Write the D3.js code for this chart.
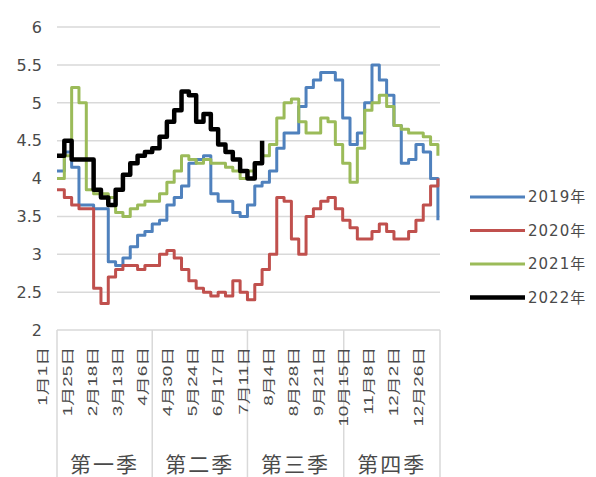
<!DOCTYPE html>
<html><head><meta charset="utf-8">
<script src="https://cdn.jsdelivr.net/npm/d3@7"></script>
<style>html,body{margin:0;padding:0;background:#fff;}svg{display:block;}</style>
</head><body>
<svg id="chart" width="596" height="477"></svg>
<script>
// ---- data (weekly samples, day-of-year index) ----
const weekDays = d3.range(0, 365, 7); // 0..364
const v2019 = [4.1,4.35,4.15,3.65,3.65,3.6,3.6,2.9,2.85,2.95,3.1,3.25,3.3,3.4,3.45,3.65,3.75,3.9,4.2,4.25,4.3,3.8,3.7,3.7,3.55,3.5,3.65,3.9,3.95,4.1,4.4,4.6,4.6,4.95,5.2,5.3,5.4,5.4,5.3,4.8,4.45,4.6,5.0,5.5,5.3,5.1,4.7,4.2,4.25,4.45,4.35,4.0,3.45];
const v2020 = [3.85,3.75,3.65,3.6,3.6,2.55,2.35,2.7,2.8,2.85,2.85,2.8,2.85,2.85,3.0,3.05,2.95,2.8,2.65,2.55,2.5,2.45,2.5,2.45,2.65,2.5,2.4,2.6,2.8,3.0,3.75,3.7,3.2,3.0,3.5,3.6,3.7,3.75,3.6,3.45,3.35,3.2,3.2,3.3,3.4,3.3,3.2,3.2,3.3,3.45,3.65,3.9,4.0];
const v2021 = [4.0,4.3,5.2,5.0,3.85,3.8,3.8,3.75,3.55,3.5,3.6,3.65,3.7,3.7,3.8,3.95,4.1,4.3,4.25,4.2,4.25,4.2,4.2,4.15,4.1,4.0,4.1,4.2,4.3,4.45,4.8,5.0,5.05,4.75,4.6,4.6,4.8,4.75,4.45,4.2,3.95,4.4,4.9,5.0,5.1,4.95,4.7,4.65,4.6,4.6,4.55,4.45,4.3];
const v2022 = [4.3,4.5,4.25,4.25,4.25,3.85,3.75,3.65,3.85,4.05,4.2,4.3,4.35,4.4,4.55,4.75,4.9,5.15,5.1,4.75,4.85,4.65,4.45,4.35,4.25,4.1,4.0,4.2,4.5];
const seriesNames = ["2019年","2020年","2021年","2022年"];
const seriesColors = ["#4F81BD","#C0504D","#9BBB59","#000000"];
const seriesValues = [v2019, v2020, v2021, v2022];
const yTicks = [2,2.5,3,3.5,4,4.5,5,5.5,6];
const dateLabels = ["1月1日","1月25日","2月18日","3月13日","4月6日","4月30日","5月24日","6月17日","7月11日","8月4日","8月28日","9月21日","10月15日","11月8日","12月2日","12月26日"];
const dateLabelDays = d3.range(0, 361, 24);
const quarterNames = ["第一季","第二季","第三季","第四季"];
const quarterBounds = [0, 91, 182, 274, 366];

// ---- layout ----
const svg = d3.select("#chart");
const x = d3.scaleLinear().domain([0, 366]).range([57, 440]);
const y = d3.scaleLinear().domain([2, 6]).range([330, 27]);
const txt = "#4a4a4a";
const fontMain = "'DejaVu Sans', 'Noto Sans CJK SC', sans-serif";
const fontLab = "'Liberation Sans', 'Noto Sans CJK SC', sans-serif";

// gridlines
svg.append("g").selectAll("line").data(yTicks).join("line")
  .attr("x1", x(0)).attr("x2", x(366))
  .attr("y1", d => y(d)).attr("y2", d => y(d))
  .attr("stroke", "#d9d9d9").attr("stroke-width", 1.5);

// y labels
svg.append("g").selectAll("text").data(yTicks).join("text")
  .attr("x", 42).attr("y", d => y(d)).attr("dy", "0.36em")
  .attr("text-anchor", "end").attr("fill", txt)
  .attr("font-family", fontMain).attr("font-size", 16)
  .text(d => d3.format("")(d));

// category separators
svg.append("g").selectAll("line").data(quarterBounds).join("line")
  .attr("x1", d => x(d)).attr("x2", d => x(d))
  .attr("y1", 330).attr("y2", 477)
  .attr("stroke", "#d9d9d9").attr("stroke-width", 1.5);

// date labels (rotated)
svg.append("g").selectAll("text").data(dateLabels).join("text")
  .attr("transform", (d, i) => `translate(${x(dateLabelDays[i]) - 15},347) rotate(-90) scale(1.45,1)`)
  .attr("text-anchor", "end").attr("dy", "0.36em")
  .attr("fill", txt).attr("font-family", fontLab).attr("font-size", 13)
  .text(d => d);

// quarter labels
svg.append("g").selectAll("text").data(quarterNames).join("text")
  .attr("x", (d, i) => (x(quarterBounds[i]) + x(quarterBounds[i + 1])) / 2)
  .attr("y", 472)
  .attr("text-anchor", "middle").attr("fill", txt)
  .attr("font-family", fontMain).attr("font-size", 21).attr("letter-spacing", 2)
  .text(d => d);

// series lines
const line = d3.line().curve(d3.curveStepAfter)
  .x((d, i) => x(weekDays[i])).y(d => y(d));
seriesValues.forEach((vals, k) => {
  svg.append("path").datum(vals)
    .attr("fill", "none")
    .attr("stroke", seriesColors[k])
    .attr("stroke-width", k === 3 ? 4.5 : 3)
    .attr("stroke-linejoin", "round")
    .attr("d", line);
});

// legend
const lg = svg.append("g").selectAll("g").data(seriesNames).join("g")
  .attr("transform", (d, i) => `translate(470,${197 + i * 33.5})`);
lg.append("line").attr("x1", 0).attr("x2", 55).attr("y1", 0).attr("y2", 0)
  .attr("stroke", (d, i) => seriesColors[i])
  .attr("stroke-width", (d, i) => i === 3 ? 4.5 : 3);
lg.append("text").attr("x", 58).attr("dy", "0.36em")
  .attr("fill", txt).attr("font-family", fontMain).attr("font-size", 15)
  .attr("letter-spacing", 1)
  .text(d => d);
</script>
</body></html>
